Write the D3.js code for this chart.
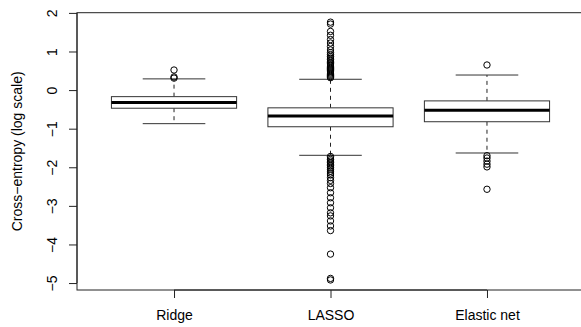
<!DOCTYPE html>
<html>
<head>
<meta charset="utf-8">
<script src="https://cdn.jsdelivr.net/npm/d3@7/dist/d3.min.js"></script>
<style>
  body { margin: 0; background: #fff; }
  text { font-family: "Liberation Sans", Arial, sans-serif; fill: #000; }
</style>
</head>
<body>
<div class="chart"></div>
<script>
// categories and box stats (log scale)
var methods = ["Ridge", "LASSO", "Elastic net"];
var whiskLow = [-0.87, -1.69, -1.63];
var q1 = [-0.47, -0.95, -0.82];
var medians = [-0.32, -0.67, -0.52];
var q3 = [-0.17, -0.46, -0.28];
var whiskHigh = [0.29, 0.28, 0.39];

// outliers per method
var ridgeOut = [0.52, 0.34, 0.31];
var lassoOut = [1.76, 1.71, 1.52, 1.42, 1.31, 1.22, 1.13, 1.04, 0.97, 0.92, 0.87, 0.83,
  0.79, 0.75, 0.71, 0.68, 0.65, 0.62, 0.59, 0.56, 0.53, 0.50, 0.47, 0.44, 0.41, 0.38,
  0.35, 0.32,
  -1.72, -1.76, -1.80, -1.84, -1.88, -1.92, -1.96, -2.0, -2.05, -2.1, -2.15, -2.2,
  -2.27, -2.34, -2.42, -2.53, -2.66, -2.79, -2.92, -3.05, -3.18, -3.26, -3.39, -3.52,
  -3.64, -4.25, -4.88, -4.92];
var elasticOut = [0.65, -1.70, -1.76, -1.84, -1.92, -1.99, -2.57];
var outliers = [ridgeOut, lassoOut, elasticOut];

var yTicks = [-5, -4, -3, -2, -1, 0, 1, 2];

var width = 581, height = 327;
var svg = d3.select(".chart").append("svg")
  .attr("width", width).attr("height", height);

var x = d3.scaleLinear().domain([0.38, 3.62]).range([77, 584]);
var y = d3.scaleLinear().domain([-5.18, 2.005]).range([290, 12.7]);

var boxHalf = x(0.4) - x(0);
var stapleHalf = boxHalf / 2;

// frame
svg.append("rect")
  .attr("x", x(0.38)).attr("y", y(2.005))
  .attr("width", x(3.62) - x(0.38)).attr("height", y(-5.18) - y(2.005))
  .attr("fill", "none").attr("stroke", "#222").attr("stroke-width", 1);

// y axis
var yAxis = svg.append("g").attr("transform", "translate(77,0)")
  .call(d3.axisLeft(y).tickValues(yTicks).tickSize(8).tickFormat(function(d){ return d < 0 ? "\u2212" + (-d) : d; }));
yAxis.select(".domain").attr("d", "M-0," + y(-5) + "V" + y(2)).attr("stroke", "#222");
yAxis.selectAll(".tick line").attr("stroke", "#222");
yAxis.selectAll(".tick text")
  .attr("font-size", 14).attr("text-anchor", "middle").attr("x", 0).attr("dy", null)
  .attr("transform", "translate(-25,0) rotate(-90)")
  .attr("dominant-baseline", "central");

// x axis
var xAxis = svg.append("g").attr("transform", "translate(0,290)")
  .call(d3.axisBottom(x).tickValues([1, 2, 3]).tickSize(8).tickFormat(function(d){ return methods[d - 1]; }));
xAxis.select(".domain").attr("d", "M" + x(1) + ",0H" + x(3)).attr("stroke", "#222");
xAxis.selectAll(".tick line").attr("stroke", "#222");
xAxis.selectAll(".tick text").attr("font-size", 14).attr("y", 20).attr("dy", "0.71em");

// y label
svg.append("text")
  .attr("transform", "translate(17," + ((y(2.005) + y(-5.18)) / 2) + ") rotate(-90)")
  .attr("text-anchor", "middle").attr("dominant-baseline", "central")
  .attr("font-size", 14)
  .text("Cross\u2212entropy (log scale)");

var g = svg.append("g");
methods.forEach(function(m, i) {
  var cx = x(i + 1);
  // whiskers
  g.append("line").attr("x1", cx).attr("x2", cx).attr("y1", y(q3[i])).attr("y2", y(whiskHigh[i]))
    .attr("stroke", "#222").attr("stroke-dasharray", "4,4");
  g.append("line").attr("x1", cx).attr("x2", cx).attr("y1", y(q1[i])).attr("y2", y(whiskLow[i]))
    .attr("stroke", "#222").attr("stroke-dasharray", "4,4");
  [whiskHigh[i], whiskLow[i]].forEach(function(v) {
    g.append("line").attr("x1", cx - stapleHalf).attr("x2", cx + stapleHalf)
      .attr("y1", y(v)).attr("y2", y(v)).attr("stroke", "#333");
  });
  // box
  g.append("rect").attr("x", cx - boxHalf).attr("y", y(q3[i]))
    .attr("width", 2 * boxHalf).attr("height", y(q1[i]) - y(q3[i]))
    .attr("fill", "#fff").attr("stroke", "#333");
  g.append("line").attr("x1", cx - boxHalf).attr("x2", cx + boxHalf)
    .attr("y1", y(medians[i])).attr("y2", y(medians[i]))
    .attr("stroke", "#000").attr("stroke-width", 3);
  // outliers
  g.selectAll(null).data(outliers[i]).enter().append("circle")
    .attr("cx", cx).attr("cy", function(d){ return y(d); }).attr("r", 3.2)
    .attr("fill", "none").attr("stroke", "#000").attr("stroke-width", 1);
});
</script>
</body>
</html>
